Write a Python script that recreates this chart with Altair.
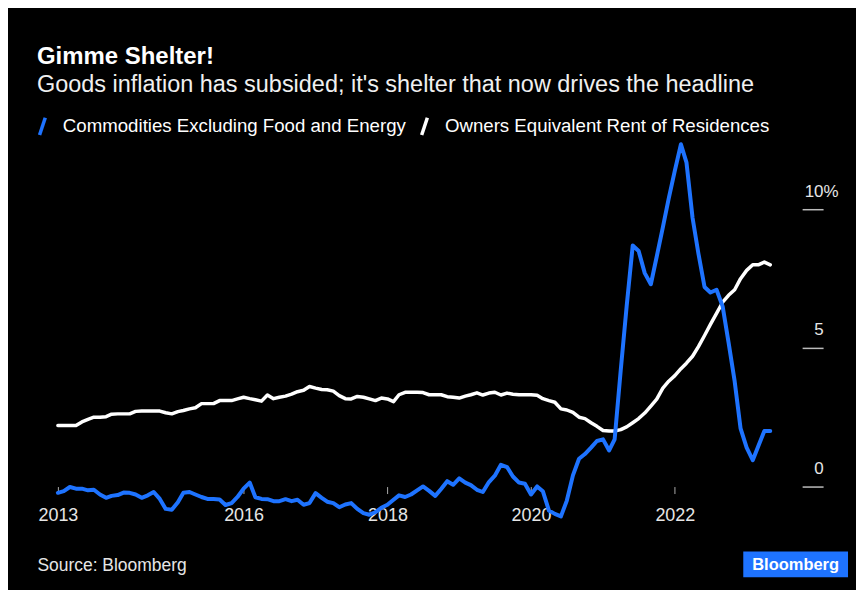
import altair as alt
import pandas as pd

# ---- data (monthly YoY %, Jun 2013 - May 2023) ----
first_month = "2013-06-01"
series_names = ["Commodities Excluding Food and Energy", "Owners Equivalent Rent of Residences"]

commodities_2013 = [-0.23, -0.17, -0.02, -0.08, -0.08, -0.14, -0.12]
commodities_2014 = [-0.29, -0.41, -0.34, -0.31, -0.22, -0.23, -0.29, -0.41, -0.32, -0.20, -0.45, -0.81]
commodities_2015 = [-0.84, -0.57, -0.23, -0.20, -0.29, -0.38, -0.45, -0.45, -0.47, -0.67, -0.60, -0.38]
commodities_2016 = [-0.08, 0.14, -0.39, -0.45, -0.46, -0.53, -0.53, -0.46, -0.53, -0.48, -0.66, -0.60]
commodities_2017 = [-0.24, -0.41, -0.55, -0.60, -0.75, -0.65, -0.60, -0.81, -0.96, -1.02, -0.93, -0.77]
commodities_2018 = [-0.66, -0.48, -0.32, -0.38, -0.29, -0.14, 0.00, -0.16, -0.34, -0.09, 0.19, 0.06]
commodities_2019 = [0.29, 0.14, 0.05, -0.12, -0.20, 0.16, 0.39, 0.78, 0.70, 0.36, 0.14, 0.10]
commodities_2020 = [-0.29, 0.00, -0.17, -0.87, -0.99, -1.08, -0.51, 0.40, 1.00, 1.17, 1.40, 1.64]
commodities_2021 = [1.70, 1.30, 1.70, 4.20, 6.50, 8.70, 8.50, 7.70, 7.30, 8.30, 9.35, 10.40]
commodities_2022 = [11.40, 12.35, 11.70, 9.70, 8.40, 7.20, 7.00, 7.10, 6.50, 5.20, 3.80, 2.10]
commodities_2023 = [1.40, 0.95, 1.45, 2.00, 2.00]

oer_2013 = [2.20, 2.20, 2.20, 2.20, 2.33, 2.42, 2.50]
oer_2014 = [2.50, 2.52, 2.61, 2.62, 2.62, 2.62, 2.71, 2.72, 2.72, 2.72, 2.72, 2.66]
oer_2015 = [2.62, 2.70, 2.74, 2.80, 2.84, 2.99, 2.99, 2.99, 3.10, 3.10, 3.10, 3.16]
oer_2016 = [3.22, 3.17, 3.13, 3.08, 3.30, 3.17, 3.22, 3.26, 3.33, 3.42, 3.47, 3.61]
oer_2017 = [3.55, 3.50, 3.49, 3.44, 3.28, 3.17, 3.16, 3.25, 3.22, 3.16, 3.10, 3.19]
oer_2018 = [3.16, 3.06, 3.31, 3.40, 3.40, 3.40, 3.39, 3.31, 3.31, 3.31, 3.24, 3.22]
oer_2019 = [3.19, 3.26, 3.31, 3.38, 3.30, 3.37, 3.40, 3.30, 3.37, 3.33, 3.31, 3.31]
oer_2020 = [3.31, 3.29, 3.17, 3.10, 3.04, 2.80, 2.76, 2.67, 2.50, 2.45, 2.30, 2.17]
oer_2021 = [2.02, 2.00, 2.00, 2.05, 2.15, 2.30, 2.45, 2.65, 2.90, 3.15, 3.55, 3.80]
oer_2022 = [4.00, 4.25, 4.45, 4.70, 5.05, 5.45, 5.85, 6.25, 6.65, 6.90, 7.10, 7.50]
oer_2023 = [7.80, 8.00, 8.00, 8.10, 8.00]

y_ticks = [0, 5, 10]
source_text = "Source: Bloomberg"
brand = ["Bloomberg"]

commodities = (commodities_2013 + commodities_2014 + commodities_2015 + commodities_2016 +
               commodities_2017 + commodities_2018 + commodities_2019 + commodities_2020 +
               commodities_2021 + commodities_2022 + commodities_2023)
oer = (oer_2013 + oer_2014 + oer_2015 + oer_2016 + oer_2017 + oer_2018 + oer_2019 +
       oer_2020 + oer_2021 + oer_2022 + oer_2023)

months = pd.date_range(first_month, periods=len(commodities), freq="MS")
df = pd.concat([
    pd.DataFrame({"date": months, "value": commodities, "series": series_names[0]}),
    pd.DataFrame({"date": months, "value": oer, "series": series_names[1]}),
], ignore_index=True)

BLUE = "#1e73ff"
FONT = "Liberation Sans"

x_enc = alt.X(
    "date:T",
    scale=alt.Scale(domain=[alt.DateTime(year=2013, month=6, date=1),
                            alt.DateTime(year=2023, month=10, date=10)]),
    axis=alt.Axis(
        values=[alt.DateTime(year=2013, month=6, date=1), alt.DateTime(year=2016, month=1, date=1),
                alt.DateTime(year=2018, month=1, date=1), alt.DateTime(year=2020, month=1, date=1),
                alt.DateTime(year=2022, month=1, date=1)],
        format="%Y", offset=-36, domain=False, grid=False,
        tickSize=7, tickColor="#aaaaaa", tickWidth=1,
        labelFontSize=18, labelColor="#e6e6e6", labelFont=FONT, labelPadding=13,
        labelFlush=False, labelOverlap=False,
        title=source_text, titleX=-21, titleY=84, titleAlign="left", titleAnchor="start",
        titleBaseline="alphabetic", titleFontSize=17.5, titleFontWeight="normal",
        titleColor="#e6e6e6", titleFont=FONT,
    ),
)
y_enc = alt.Y(
    "value:Q",
    scale=alt.Scale(domain=[-1.3, 12.6], nice=False, zero=False),
    axis=alt.Axis(
        orient="right", values=y_ticks, domain=False, grid=False,
        tickSize=21, tickColor="#bbbbbb", tickWidth=1.5,
        labelAlign="right", labelBaseline="alphabetic", labelOffset=-13,
        labelPadding={"condition": {"test": "datum.value == 10", "value": 15}, "value": 0},
        labelExpr="datum.value == 10 ? '10%' : datum.label",
        labelFontSize=17, labelColor="#e6e6e6", labelFont=FONT, title=None,
    ),
)
color_enc = alt.Color(
    "series:N",
    scale=alt.Scale(domain=series_names, range=[BLUE, "#ffffff"]),
    legend=alt.Legend(
        orient="none", legendX=-26, legendY=-22, direction="horizontal", title=None,
        symbolType="M-0.33,1L0.33,-1", symbolSize=300, symbolStrokeWidth=3.5,
        labelFontSize=18.7, labelColor="#ffffff", labelFont=FONT, labelLimit=600,
        labelOffset=10, columnPadding=8,
    ),
)

base = alt.Chart(df).encode(x=x_enc, y=y_enc, color=color_enc)
white_line = base.transform_filter(alt.datum.series == series_names[1]).mark_line(
    strokeWidth=3.5, strokeJoin="round", strokeCap="round")
blue_line = base.transform_filter(alt.datum.series == series_names[0]).mark_line(
    strokeWidth=4, strokeJoin="round", strokeCap="round")

logo_df = pd.DataFrame({"brand": brand})
logo_box = alt.Chart(logo_df).mark_rect(color=BLUE).encode(
    x=alt.value(687), x2=alt.value(792), y=alt.value(415), y2=alt.value(441))
logo_text = alt.Chart(logo_df).mark_text(
    font=FONT, fontSize=16.5, fontWeight="bold", color="#ffffff", align="center", baseline="middle"
).encode(x=alt.value(739.5), y=alt.value(428.5), text="brand:N")

chart = alt.layer(white_line, blue_line, logo_box, logo_text).properties(
    width=746, height=386,
    autosize=alt.AutoSizeParams(type="none"),
    padding={"left": 50, "top": 129, "right": 54, "bottom": 67},
    background="#000000",
    title=alt.TitleParams(
        text="Gimme Shelter!",
        subtitle="Goods inflation has subsided; it's shelter that now drives the headline",
        anchor="start", frame="group", orient="top", dx=-21, dy=-15,
        font=FONT, fontSize=24, fontWeight="bold", color="#ffffff",
        subtitleFont=FONT, subtitleFontSize=23.5, subtitleColor="#f0f0f0", subtitlePadding=4,
    ),
).configure_view(stroke=None)

chart.save("out.html", embed_options={"renderer": "svg", "actions": False})
